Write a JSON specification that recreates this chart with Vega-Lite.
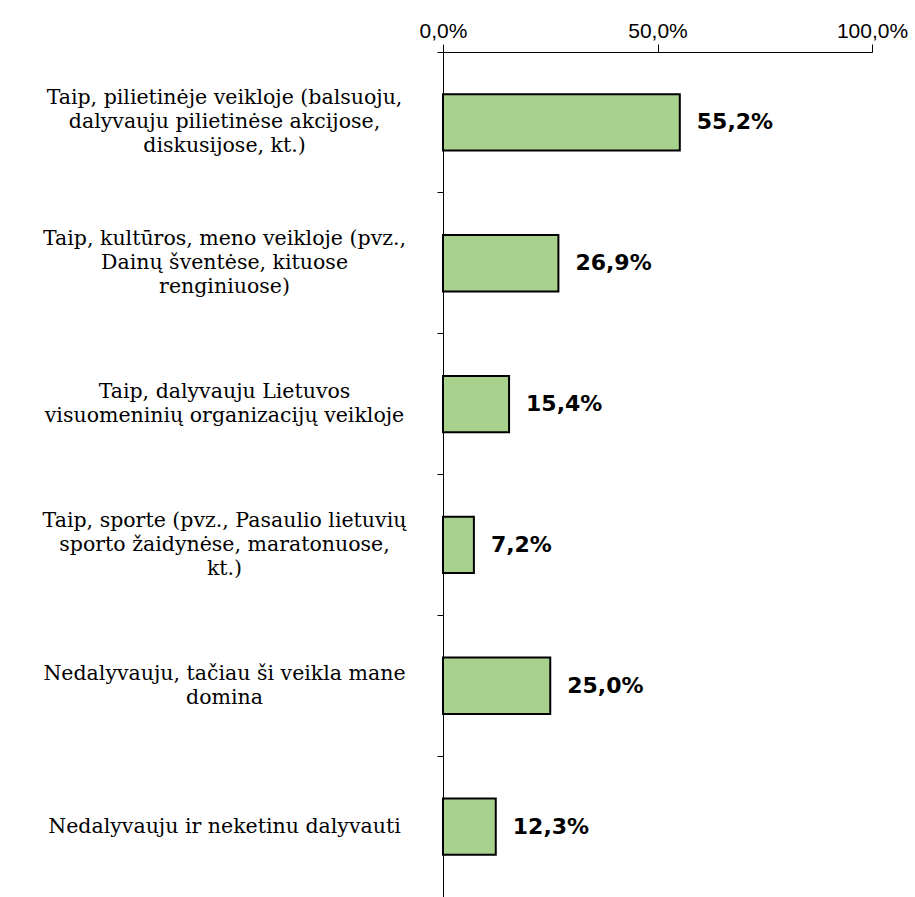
{
  "$schema": "https://vega.github.io/schema/vega-lite/v6.json",
  "width": 429,
  "height": 845,
  "autosize": {"type": "none"},
  "padding": {"left": 443, "top": 52, "right": 43, "bottom": 0},
  "background": "white",
  "config": {
    "view": {"stroke": null},
    "locale": {"number": {"decimal": ",", "thousands": " ", "grouping": [3], "currency": ["", " €"], "percent": "%"}}
  },
  "data": {
    "values": [
      {"category": "Taip, pilietinėje veikloje (balsuoju,|dalyvauju pilietinėse akcijose,|diskusijose, kt.)", "value": 0.552},
      {"category": "Taip, kultūros, meno veikloje (pvz.,|Dainų šventėse, kituose|renginiuose)", "value": 0.269},
      {"category": "Taip, dalyvauju Lietuvos|visuomeninių organizacijų veikloje", "value": 0.154},
      {"category": "Taip, sporte (pvz., Pasaulio lietuvių|sporto žaidynėse, maratonuose,|kt.)", "value": 0.072},
      {"category": "Nedalyvauju, tačiau ši veikla mane|domina", "value": 0.25},
      {"category": "Nedalyvauju ir neketinu dalyvauti", "value": 0.123}
    ]
  },
  "encoding": {
    "y": {
      "field": "category",
      "type": "nominal",
      "sort": null,
      "scale": {"paddingInner": 0, "paddingOuter": 0},
      "axis": {
        "title": null,
        "bandPosition": 0,
        "domainColor": "black",
        "domainWidth": 1,
        "tickColor": "black",
        "tickSize": 6,
        "labelExpr": "split(datum.label, '|')",
        "labelAlign": "center",
        "labelBaseline": "middle",
        "labelPadding": 213,
        "labelFont": "DejaVu Serif",
        "labelFontSize": 20.5,
        "labelLineHeight": 24,
        "labelColor": "black",
        "labelLimit": 0,
        "labelOffset": {
          "condition": [
            {"test": "length(split(datum.value, '|')) == 3", "value": -24},
            {"test": "length(split(datum.value, '|')) == 2", "value": -12}
          ],
          "value": 0
        }
      }
    }
  },
  "layer": [
    {
      "mark": {"type": "bar", "color": "#A9D18E", "stroke": "black", "strokeWidth": 2, "height": {"band": 0.4}},
      "encoding": {
        "x": {
          "field": "value",
          "type": "quantitative",
          "scale": {"domain": [0, 1]},
          "axis": {
            "orient": "top",
            "title": null,
            "values": [0, 0.5, 1],
            "format": ".1%",
            "grid": false,
            "domainColor": "black",
            "tickColor": "black",
            "tickSize": 8,
            "labelFont": "Liberation Sans",
            "labelFontSize": 21,
            "labelColor": "black",
            "labelPadding": 3,
            "labelFlush": false
          }
        }
      }
    },
    {
      "mark": {"type": "text", "align": "left", "baseline": "middle", "dx": 17, "font": "DejaVu Sans", "fontWeight": "bold", "fontSize": 22, "color": "black"},
      "encoding": {
        "x": {"field": "value", "type": "quantitative"},
        "text": {"field": "value", "type": "quantitative", "format": ".1%"}
      }
    }
  ]
}
